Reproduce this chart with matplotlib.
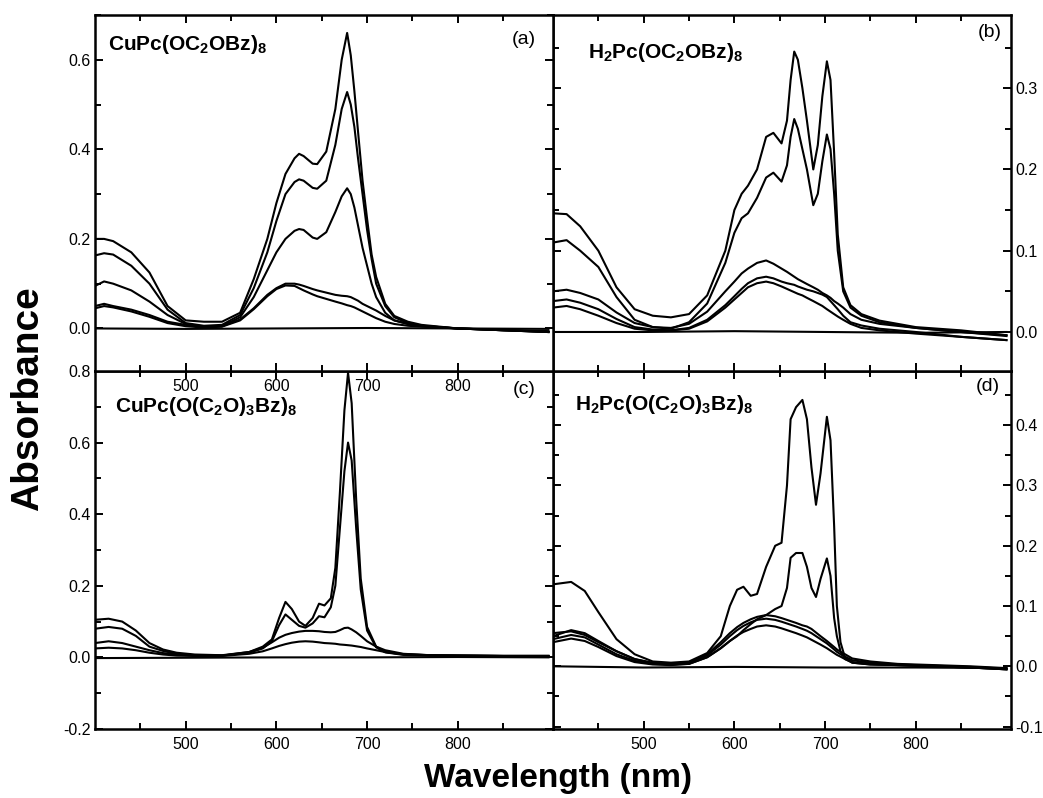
import numpy as np
import matplotlib
matplotlib.use('Agg')
import matplotlib.pyplot as plt
from matplotlib.ticker import FixedLocator, MultipleLocator, FormatStrFormatter

plt.rcParams['font.family'] = ['Liberation Sans', 'DejaVu Sans']
plt.rcParams['axes.unicode_minus'] = False
plt.rcParams['mathtext.fontset'] = 'custom'
plt.rcParams['mathtext.bf'] = 'Liberation Sans:bold'
plt.rcParams['mathtext.rm'] = 'Liberation Sans:bold'
plt.rcParams['mathtext.default'] = 'bf'

# ---- data (wavelength in nm, absorbance) ----

# (a) CuPc(OC2OBz)8
wl_a = [400, 410, 420, 440, 460, 480, 500, 520, 540, 560, 575, 590, 600, 610, 620, 625, 630, 640, 645, 655,
        665, 672, 678, 682, 686, 690, 695, 700, 705, 710, 720, 730, 745, 760, 800, 850, 900]
a1 = [0.2, 0.2, 0.195, 0.17, 0.125, 0.05, 0.018, 0.015, 0.015, 0.035, 0.11, 0.2, 0.28, 0.345, 0.38, 0.39, 0.385, 0.368, 0.367, 0.395,
      0.49, 0.6, 0.66, 0.61, 0.53, 0.44, 0.33, 0.245, 0.165, 0.115, 0.055, 0.028, 0.015, 0.008, 0.0, -0.004, -0.008]
a2 = [0.163, 0.168, 0.165, 0.14, 0.1, 0.042, 0.012, 0.006, 0.008, 0.03, 0.09, 0.17, 0.24, 0.3, 0.327, 0.333, 0.33, 0.314, 0.312, 0.33,
      0.41, 0.49, 0.528, 0.5, 0.45, 0.38, 0.3, 0.22, 0.155, 0.1, 0.05, 0.025, 0.012, 0.006, 0.0, -0.004, -0.007]
a3 = [0.095, 0.105, 0.1, 0.085, 0.06, 0.03, 0.01, 0.004, 0.005, 0.025, 0.07, 0.13, 0.17, 0.2, 0.218, 0.222, 0.22, 0.203, 0.2, 0.215,
      0.26, 0.295, 0.313, 0.3, 0.27, 0.23, 0.18, 0.14, 0.1, 0.07, 0.035, 0.018, 0.01, 0.005, 0.0, -0.003, -0.006]
a4 = [0.05, 0.055, 0.05, 0.042, 0.03, 0.015, 0.008, 0.004, 0.005, 0.02, 0.045, 0.075, 0.09, 0.1, 0.1, 0.098, 0.095, 0.088, 0.085, 0.08,
      0.075, 0.073, 0.072, 0.07, 0.066, 0.062, 0.055, 0.05, 0.045, 0.04, 0.028, 0.018, 0.01, 0.006, 0.0, -0.004, -0.008]
a5 = [0.045, 0.05, 0.047, 0.038, 0.026, 0.012, 0.005, 0.002, 0.004, 0.018, 0.043, 0.072, 0.088, 0.096, 0.095, 0.09, 0.085, 0.076, 0.072, 0.066,
      0.06, 0.056, 0.052, 0.05, 0.047, 0.043, 0.038, 0.033, 0.028, 0.023, 0.015, 0.01, 0.006, 0.004, 0.0, -0.004, -0.008]

# (b) H2Pc(OC2OBz)8
wl_b = [400, 415, 430, 450, 470, 490, 510, 530, 550, 570, 590, 600, 608, 615, 625, 635, 643, 652, 658, 662,
        666, 670, 675, 680, 687, 692, 697, 702, 706, 710, 714, 720, 728, 740, 760, 800, 850, 900]
b1 = [0.146, 0.145, 0.13, 0.1, 0.055, 0.028, 0.02, 0.018, 0.022, 0.045, 0.1, 0.15, 0.17, 0.18, 0.2, 0.24, 0.245, 0.232, 0.26, 0.31,
      0.345, 0.335, 0.3, 0.26, 0.2, 0.23, 0.29, 0.333, 0.31, 0.22, 0.12, 0.055, 0.033, 0.022, 0.014, 0.006, 0.002, -0.004]
b2 = [0.11, 0.113, 0.1, 0.08, 0.043, 0.015, 0.006, 0.004, 0.012, 0.035, 0.085, 0.122, 0.14, 0.146, 0.165, 0.19, 0.196, 0.185, 0.205, 0.24,
      0.262, 0.25, 0.225, 0.2, 0.156, 0.17, 0.21, 0.243, 0.225, 0.17, 0.1, 0.05, 0.03, 0.02, 0.012, 0.005, 0.0, -0.005]
b3 = [0.05, 0.052, 0.048, 0.04, 0.024, 0.011, 0.006, 0.005, 0.01, 0.025, 0.05, 0.062, 0.072, 0.078, 0.085, 0.088, 0.084, 0.078, 0.074, 0.071,
      0.068, 0.065, 0.062, 0.059, 0.055, 0.052, 0.048, 0.045, 0.042, 0.038, 0.035, 0.03, 0.022, 0.015, 0.01, 0.005, 0.0, -0.004]
b4 = [0.038, 0.04, 0.036, 0.028, 0.016, 0.006, 0.003, 0.002, 0.005, 0.015, 0.033, 0.044, 0.053, 0.06, 0.066, 0.068, 0.066, 0.062, 0.06, 0.059,
      0.058, 0.056, 0.054, 0.052, 0.05, 0.048, 0.046, 0.043, 0.038, 0.033, 0.028, 0.02, 0.012, 0.008, 0.004, 0.0, -0.006, -0.01]
b5 = [0.03, 0.032, 0.028, 0.02, 0.011, 0.004, 0.002, 0.002, 0.004, 0.013, 0.03, 0.04, 0.048, 0.055, 0.06, 0.062, 0.06, 0.056, 0.053, 0.051,
      0.049, 0.047, 0.045, 0.042, 0.038, 0.035, 0.032, 0.028, 0.025, 0.022, 0.019, 0.015, 0.01, 0.005, 0.002, -0.002, -0.006, -0.01]

# (c) CuPc(O(C2O)3Bz)8
wl_c = [400, 415, 430, 445, 460, 475, 490, 510, 540, 570, 585, 595, 603, 610, 617, 625, 632, 640, 647, 653,
        660, 665, 670, 675, 679, 683, 688, 693, 700, 710, 720, 740, 770, 800, 850, 900]
c1 = [0.105, 0.108, 0.1, 0.075, 0.04, 0.022, 0.013, 0.008, 0.006, 0.015, 0.03, 0.05, 0.11, 0.155, 0.135, 0.1, 0.088, 0.11, 0.15, 0.145,
      0.165, 0.25, 0.46, 0.69, 0.795, 0.71, 0.44, 0.22, 0.085, 0.03, 0.015, 0.008, 0.006, 0.005, 0.004, 0.004]
c2 = [0.08, 0.085, 0.08, 0.06, 0.03, 0.018, 0.01, 0.006, 0.005, 0.013, 0.025, 0.045, 0.09, 0.12, 0.105, 0.088, 0.083, 0.095, 0.115, 0.112,
      0.14, 0.2, 0.36, 0.52, 0.6, 0.55, 0.36, 0.19, 0.075, 0.028, 0.014, 0.007, 0.005, 0.005, 0.004, 0.004]
c3 = [0.04, 0.045, 0.04, 0.03, 0.02, 0.012, 0.008, 0.005, 0.005, 0.015, 0.027, 0.042, 0.055, 0.063, 0.068, 0.072, 0.074, 0.074, 0.073, 0.071,
      0.07, 0.071, 0.076, 0.082, 0.083, 0.078, 0.07, 0.06, 0.045, 0.03, 0.02, 0.01, 0.006, 0.005, 0.004, 0.004]
c4 = [0.025, 0.027, 0.025, 0.02, 0.013, 0.008, 0.005, 0.004, 0.004, 0.01, 0.017, 0.025, 0.032, 0.037, 0.041, 0.044, 0.045, 0.044, 0.042, 0.04,
      0.039, 0.038, 0.036, 0.035, 0.034, 0.033, 0.031, 0.029, 0.025, 0.02, 0.015, 0.009, 0.006, 0.005, 0.004, 0.004]

# (d) H2Pc(O(C2O)3Bz)8
wl_d = [400, 420, 435, 450, 470, 490, 510, 530, 550, 570, 585, 595, 603, 610, 618, 625, 635, 645, 652, 658,
        662, 668, 675, 680, 685, 690, 695, 702, 706, 710, 713, 717, 722, 730, 750, 780, 820, 860, 900]
d1 = [0.136, 0.14, 0.125, 0.09, 0.045, 0.02, 0.008, 0.006, 0.008, 0.022, 0.05, 0.1, 0.127, 0.132, 0.117, 0.12, 0.165, 0.2, 0.205, 0.3,
      0.41, 0.43, 0.442, 0.41, 0.33, 0.268, 0.32, 0.414, 0.375, 0.233, 0.1, 0.04, 0.014, 0.006, 0.003, 0.002, 0.0, -0.002, -0.005]
d2 = [0.055, 0.058, 0.052, 0.04, 0.025, 0.012, 0.005, 0.003, 0.004, 0.015, 0.03, 0.042, 0.05, 0.06, 0.07, 0.078, 0.085, 0.095, 0.1, 0.13,
      0.18, 0.188, 0.188, 0.165, 0.13, 0.115, 0.145, 0.179, 0.15, 0.08, 0.05, 0.025, 0.012, 0.006, 0.003, 0.002, 0.0, -0.002, -0.005]
d3 = [0.05, 0.06, 0.055, 0.042, 0.025, 0.012, 0.006, 0.004, 0.006, 0.02, 0.04, 0.055, 0.065, 0.072, 0.078, 0.082, 0.085, 0.083, 0.08, 0.077,
      0.075, 0.072, 0.068, 0.066, 0.062, 0.056, 0.05, 0.042, 0.037, 0.032, 0.028, 0.024, 0.02, 0.013, 0.008, 0.004, 0.002, 0.0, -0.003]
d4 = [0.045, 0.052, 0.048, 0.036, 0.02, 0.009, 0.004, 0.003, 0.005, 0.018, 0.036, 0.05, 0.06, 0.067, 0.073, 0.077, 0.079, 0.077, 0.074, 0.071,
      0.069, 0.066, 0.062, 0.059, 0.055, 0.05, 0.045, 0.038, 0.033, 0.028, 0.024, 0.02, 0.016, 0.01, 0.006, 0.003, 0.001, -0.001, -0.004]
d5 = [0.04, 0.046, 0.042, 0.032, 0.017, 0.007, 0.003, 0.002, 0.004, 0.015, 0.03, 0.042, 0.051, 0.057, 0.062, 0.066, 0.068, 0.066, 0.063, 0.06,
      0.058, 0.055, 0.051, 0.048, 0.044, 0.04, 0.036, 0.03, 0.026, 0.022, 0.019, 0.016, 0.012, 0.007, 0.004, 0.002, 0.0, -0.002, -0.005]

# flat reference (solvent) traces
wl_base = [400, 500, 600, 700, 800, 900]
base_a = [0.0, -0.001, 0.0, 0.001, 0.0, -0.001]
base_b = [0.0, 0.0, 0.001, 0.0, -0.001, 0.0]
base_c = [-0.002, -0.001, 0.0, 0.0, 0.001, 0.0]
base_d = [0.0, -0.002, -0.001, -0.002, -0.002, -0.003]

compounds = [r'CuPc(OC$_2$OBz)$_8$', r'H$_2$Pc(OC$_2$OBz)$_8$',
             r'CuPc(O(C$_2$O)$_3$Bz)$_8$', r'H$_2$Pc(O(C$_2$O)$_3$Bz)$_8$']
letters = ['(a)', '(b)', '(c)', '(d)']


def style_panel(ax, ylim, ymajor, yminor, label_side, show_xlabels):
    ax.set_xlim(400, 905)
    ax.set_ylim(*ylim)
    ax.xaxis.set_major_locator(FixedLocator([500, 600, 700, 800]))
    ax.xaxis.set_minor_locator(FixedLocator([450, 550, 650, 750, 850]))
    ax.yaxis.set_major_locator(MultipleLocator(ymajor))
    ax.yaxis.set_minor_locator(MultipleLocator(yminor))
    ax.yaxis.set_major_formatter(FormatStrFormatter('%.1f'))
    ax.tick_params(which='both', direction='in', top=True, bottom=True, left=True, right=True,
                   width=1.4, labelsize=11.5, colors='black')
    ax.tick_params(which='major', length=6)
    ax.tick_params(which='minor', length=4)
    ax.tick_params(axis='y', pad=3, labelleft=(label_side == 'left'), labelright=(label_side == 'right'))
    ax.tick_params(axis='x', pad=6, labelbottom=show_xlabels)
    for sp in ax.spines.values():
        sp.set_linewidth(1.8)


fig = plt.figure(figsize=(10.43, 7.98), dpi=100)

x0, xm, x1 = 0.0911, 0.5302, 0.9693
y0, ym, y1 = 0.0865, 0.5351, 0.9812

ax_a = fig.add_axes([x0, ym, xm - x0, y1 - ym])
ax_b = fig.add_axes([xm, ym, x1 - xm, y1 - ym])
ax_c = fig.add_axes([x0, y0, xm - x0, ym - y0])
ax_d = fig.add_axes([xm, y0, x1 - xm, ym - y0])
# top-left tick labels are drawn over the lower panel
ax_a.set_zorder(3)
ax_c.set_zorder(1)
ax_b.set_zorder(2)
ax_d.set_zorder(0)

panels = [
    (ax_a, wl_a, [a1, a2, a3, a4, a5], base_a, (-0.095, 0.70), 0.2, 0.1, 'left', True),
    (ax_b, wl_b, [b1, b2, b3, b4, b5], base_b, (-0.048, 0.39), 0.1, 0.05, 'right', False),
    (ax_c, wl_c, [c1, c2, c3, c4], base_c, (-0.2, 0.8), 0.2, 0.1, 'left', True),
    (ax_d, wl_d, [d1, d2, d3, d4, d5], base_d, (-0.104, 0.49), 0.1, 0.05, 'right', True),
]

for ax, wl, curves, base, ylim, ymaj, ymin, side, xl in panels:
    for y in curves:
        ax.plot(wl, y, color='black', lw=1.5)
    ax.plot(wl_base, base, color='black', lw=1.5)
    style_panel(ax, ylim, ymaj, ymin, side, xl)

# compound names and panel letters
name_pos = [(0.028, 0.902), (0.076, 0.879), (0.044, 0.886), (0.048, 0.891)]
letter_pos = [(0.962, 0.93), (0.980, 0.952), (0.962, 0.947), (0.976, 0.956)]
for ax, name, (nx, ny), let, (lx, ly) in zip([ax_a, ax_b, ax_c, ax_d], compounds, name_pos, letters, letter_pos):
    ax.text(nx, ny, name, transform=ax.transAxes, fontsize=15, fontweight='bold',
            ha='left', va='baseline')
    ax.text(lx, ly, let, transform=ax.transAxes, fontsize=14, ha='right', va='center')

fig.text(0.027, 0.5, 'Absorbance', rotation=90, fontsize=28, fontweight='bold',
         ha='center', va='center')
fig.text(0.535, 0.0138, 'Wavelength (nm)', fontsize=24, fontweight='bold',
         ha='center', va='baseline')

fig.savefig('out.png', dpi=100)
